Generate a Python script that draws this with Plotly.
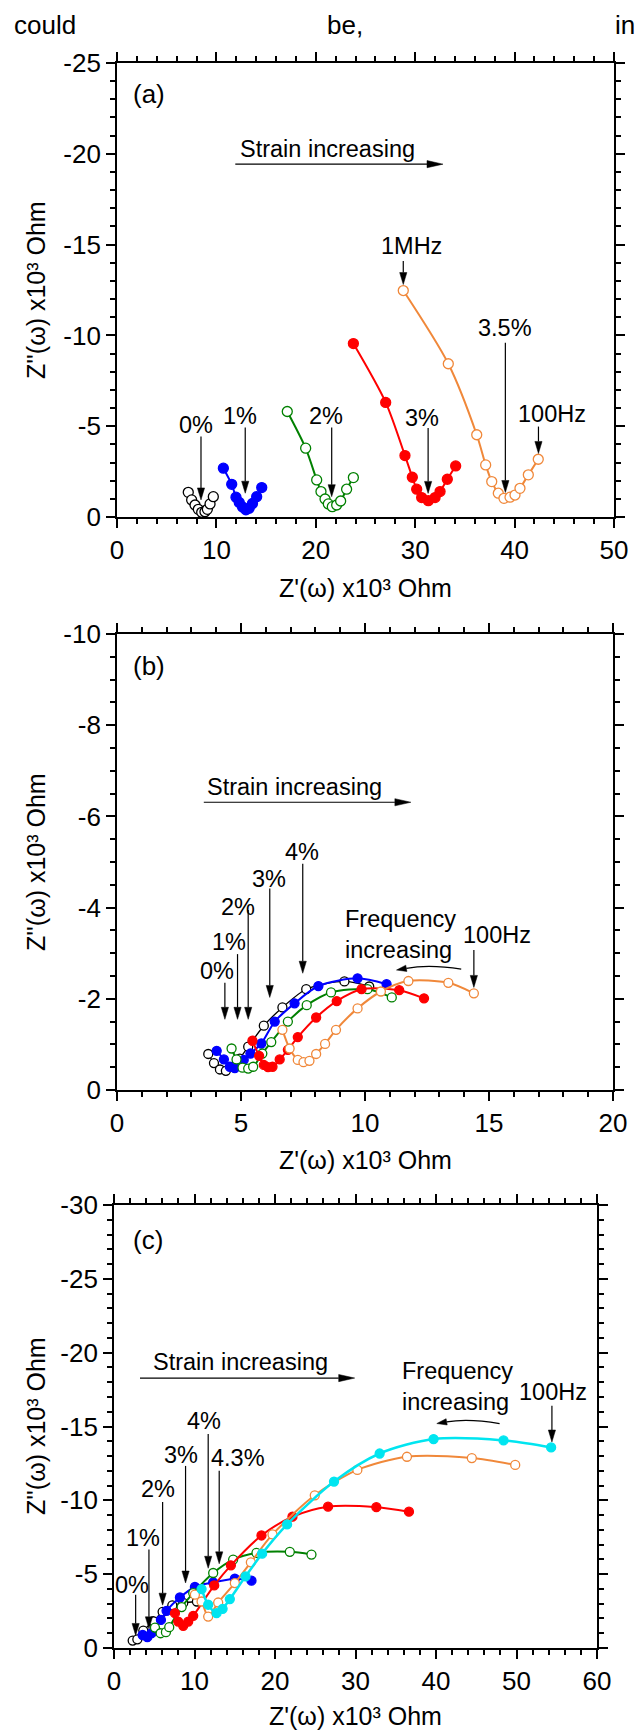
import plotly.graph_objects as go

# ---------------- DATA ----------------
# Panel (a): strain 0%, 1%, 2%, 3%, 3.5%   (Z' , Z'' in x10^3 Ohm)
a_x_0 = [7.17, 7.51, 7.85, 8.18, 8.52, 8.85, 9.09, 9.36, 9.69]
a_y_0 = [-1.36, -0.94, -0.66, -0.42, -0.26, -0.29, -0.42, -0.72, -1.12]
a_x_1 = [10.70, 11.54, 11.97, 12.30, 12.63, 12.97, 13.30, 13.63, 14.05, 14.56]
a_y_1 = [-2.69, -1.80, -1.09, -0.80, -0.55, -0.40, -0.48, -0.75, -1.12, -1.62]
a_x_2 = [17.13, 18.98, 20.09, 20.52, 20.93, 21.26, 21.66, 22.10, 22.50, 23.10, 23.78]
a_y_2 = [-5.81, -3.79, -2.04, -1.40, -0.99, -0.72, -0.57, -0.66, -0.88, -1.53, -2.17]
a_x_3 = [23.78, 27.03, 28.97, 29.71, 30.15, 30.65, 31.32, 32.00, 32.50, 33.23, 34.07]
a_y_3 = [-9.55, -6.31, -3.38, -2.19, -1.53, -1.07, -0.90, -1.07, -1.40, -2.08, -2.81]
a_x_35 = [28.80, 33.33, 36.19, 37.09, 37.70, 38.36, 38.93, 39.54, 40.04, 40.54, 41.38, 42.38]
a_y_35 = [-12.47, -8.44, -4.53, -2.87, -1.95, -1.31, -1.03, -1.09, -1.21, -1.58, -2.32, -3.18]

# Panel (b): strain 0%, 1%, 2%, 3%, 4%
b_x_0 = [3.68, 3.91, 4.15, 4.39, 4.68, 4.95, 5.29, 5.92, 6.67, 7.63, 9.17, 10.17]
b_y_0 = [-0.79, -0.59, -0.45, -0.42, -0.51, -0.69, -0.95, -1.41, -1.81, -2.21, -2.38, -2.27]
b_x_1 = [4.02, 4.31, 4.55, 4.75, 5.11, 5.38, 5.82, 6.36, 7.16, 8.12, 9.70, 10.87]
b_y_1 = [-0.86, -0.67, -0.51, -0.48, -0.66, -0.80, -1.02, -1.50, -1.90, -2.28, -2.45, -2.32]
b_x_2 = [4.62, 4.82, 5.06, 5.29, 5.49, 5.86, 6.22, 6.89, 7.65, 8.63, 10.10, 11.08]
b_y_2 = [-0.91, -0.67, -0.49, -0.47, -0.51, -0.80, -1.05, -1.50, -1.86, -2.14, -2.21, -2.03]
b_x_3 = [5.46, 5.73, 5.92, 6.09, 6.27, 6.56, 6.89, 7.29, 8.03, 8.86, 9.86, 11.38, 12.38]
b_y_3 = [-1.08, -0.75, -0.55, -0.50, -0.51, -0.67, -0.88, -1.16, -1.59, -1.95, -2.21, -2.19, -2.01]
b_x_4 = [6.67, 6.96, 7.29, 7.52, 7.76, 8.03, 8.39, 8.83, 9.70, 10.64, 11.75, 13.36, 14.39]
b_y_4 = [-1.32, -0.91, -0.66, -0.61, -0.64, -0.79, -1.01, -1.32, -1.79, -2.16, -2.39, -2.35, -2.12]

# Panel (c): strain 0%, 1%, 2%, 3%, 4%, 4.3%
c_x_0 = [2.32, 2.90, 3.64, 4.88, 6.04, 7.24, 8.60, 10.30]
c_y_0 = [-0.50, -0.59, -1.18, -1.81, -2.45, -2.88, -3.05, -3.15]
c_x_1 = [3.56, 4.14, 4.67, 5.83, 6.53, 8.19, 10.05, 12.32, 15.01, 17.08]
c_y_1 = [-0.88, -0.73, -1.00, -1.90, -2.52, -3.42, -4.13, -4.44, -4.69, -4.56]
c_x_2 = [5.09, 5.79, 6.45, 6.86, 8.40, 9.84, 12.32, 14.80, 17.70, 21.84, 24.53]
c_y_2 = [-1.38, -1.00, -1.07, -1.41, -2.77, -3.72, -5.08, -5.99, -6.44, -6.51, -6.33]
c_x_3 = [7.57, 7.98, 8.60, 9.22, 9.84, 12.45, 14.52, 18.32, 22.17, 26.59, 32.59, 36.64]
c_y_3 = [-2.36, -1.79, -1.50, -1.79, -2.18, -4.24, -5.60, -7.62, -8.89, -9.57, -9.54, -9.23]
c_x_4 = [10.05, 10.88, 11.70, 12.94, 15.01, 17.00, 19.69, 24.94, 30.23, 36.39, 44.45, 49.84]
c_y_4 = [-3.61, -3.15, -2.13, -3.08, -4.40, -5.80, -7.69, -10.34, -12.06, -12.95, -12.86, -12.40]
c_x_43 = [10.88, 11.70, 12.74, 13.49, 14.39, 16.34, 18.40, 21.50, 27.33, 33.00, 39.70, 48.39, 54.30]
c_y_43 = [-3.99, -2.93, -2.36, -2.65, -3.31, -4.85, -6.39, -8.37, -11.27, -13.17, -14.15, -14.06, -13.58]

# tick labels
a_xticks = [0, 10, 20, 30, 40, 50]
a_yticks = [-25, -20, -15, -10, -5, 0]
b_xticks = [0, 5, 10, 15, 20]
b_yticks = [-10, -8, -6, -4, -2, 0]
c_xticks = [0, 10, 20, 30, 40, 50, 60]
c_yticks = [-30, -25, -20, -15, -10, -5, 0]

# ---------------- STYLE ----------------
W, H = 638, 1731
FONT = "Liberation Sans, Arial, sans-serif"
BLACK, BLUE, GREEN, RED, ORANGE, CYAN = "#000000", "#0000FF", "#008000", "#FF0000", "#F0883A", "#00E5F0"

# plot-area pixel boxes (left, right, top, bottom)
BOX = {"a": (117, 614, 63, 517), "b": (117, 613, 634, 1090), "c": (114, 597, 1205, 1648)}
RNG = {"a": ([0, 50], [0, -25]), "b": ([0, 20], [0, -10]), "c": ([0, 60], [0, -30])}
REF = {"a": ("x", "y"), "b": ("x2", "y2"), "c": ("x3", "y3")}


def scale(p):
    l, r, t, b = BOX[p]
    xr, yr = RNG[p]
    return (r - l) / (xr[1] - xr[0]), (b - t) / abs(yr[1] - yr[0])


def xd(l, r):
    return [l / W, r / W]


def yd(t, b):
    return [1 - b / H, 1 - t / H]


fig = go.Figure()


def add_series(xs, ys, color, filled, p, size=10, lw=2):
    xa, ya = REF[p]
    fig.add_trace(go.Scatter(
        x=xs, y=ys, mode="lines+markers", xaxis=xa, yaxis=ya,
        line=dict(color=color, width=lw, shape="spline", smoothing=0.8),
        marker=dict(symbol="circle", size=size,
                    color=color if filled else "white",
                    line=dict(color=color, width=1.3)),
        showlegend=False, hoverinfo="skip"))


add_series(a_x_0, a_y_0, BLACK, False, "a", lw=1.3)
add_series(a_x_1, a_y_1, BLUE, True, "a")
add_series(a_x_2, a_y_2, GREEN, False, "a")
add_series(a_x_3, a_y_3, RED, True, "a")
add_series(a_x_35, a_y_35, ORANGE, False, "a")

add_series(b_x_0, b_y_0, BLACK, False, "b", size=9, lw=1.3)
add_series(b_x_1, b_y_1, BLUE, True, "b", size=9)
add_series(b_x_2, b_y_2, GREEN, False, "b", size=9)
add_series(b_x_3, b_y_3, RED, True, "b", size=9)
add_series(b_x_4, b_y_4, ORANGE, False, "b", size=9)

add_series(c_x_0, c_y_0, BLACK, False, "c", size=9, lw=1.3)
add_series(c_x_1, c_y_1, BLUE, True, "c", size=9)
add_series(c_x_2, c_y_2, GREEN, False, "c", size=9)
add_series(c_x_3, c_y_3, RED, True, "c", size=9)
add_series(c_x_4, c_y_4, ORANGE, False, "c", size=9)
add_series(c_x_43, c_y_43, CYAN, True, "c", size=9, lw=2.5)


def axis(p, is_y, ticks, minor_dt):
    l, r, t, b = BOX[p]
    xa, ya = REF[p]
    return dict(
        domain=yd(t, b) if is_y else xd(l, r),
        range=RNG[p][1] if is_y else RNG[p][0],
        anchor=xa if is_y else ya, automargin=False,
        showline=True, linecolor="black", linewidth=1.8, mirror="ticks",
        ticks="outside", ticklen=9, tickwidth=1.5, tickcolor="black",
        showgrid=False, zeroline=False,
        tickmode="array", tickvals=ticks, ticktext=[str(v) for v in ticks],
        tickfont=dict(family=FONT, size=26, color="black"),
        minor=dict(tickmode="linear", tick0=0, dtick=minor_dt, ticks="outside",
                   ticklen=5, tickwidth=1.5, tickcolor="black", showgrid=False),
    )


fig.update_layout(
    template="none",
    width=W, height=H, autosize=False,
    margin=dict(l=0, r=0, t=0, b=0, pad=0, autoexpand=False),
    paper_bgcolor="white", plot_bgcolor="white", showlegend=False,
    font=dict(family=FONT, color="black"),
    xaxis=axis("a", False, a_xticks, 2), yaxis=axis("a", True, a_yticks, 1),
    xaxis2=axis("b", False, b_xticks, 1), yaxis2=axis("b", True, b_yticks, 0.5),
    xaxis3=axis("c", False, c_xticks, 2), yaxis3=axis("c", True, c_yticks, 1),
)

ann = []
shapes = []
LAB = 23.5


def label(text, x, y, p, size=LAB, xanchor="center", align="center"):
    xr, yr = REF[p]
    ann.append(dict(text=text, x=x, y=y, xref=xr, yref=yr, showarrow=False,
                    xanchor=xanchor, yanchor="middle", align=align, borderpad=0,
                    font=dict(family=FONT, size=size, color="black")))


def head(p, xb, yb, x1, y1, hl=12, hw=3.6):
    """filled triangular arrow head at (x1,y1) pointing away from (xb,yb)"""
    sx, sy = scale(p)
    xr, yr = REF[p]
    X0, Y0, X1, Y1 = xb * sx, yb * sy, x1 * sx, y1 * sy
    dx, dy = X1 - X0, Y1 - Y0
    L = (dx * dx + dy * dy) ** 0.5
    ux, uy = dx / L, dy / L
    bx, by = X1 - ux * hl, Y1 - uy * hl
    nx, ny = -uy, ux
    pts = [(X1, Y1), (bx + nx * hw, by + ny * hw), (bx - nx * hw, by - ny * hw)]
    path = "M " + " L ".join(f"{px / sx:.4f},{py / sy:.4f}" for px, py in pts) + " Z"
    shapes.append(dict(type="path", xref=xr, yref=yr, path=path,
                       fillcolor="black", line=dict(color="black", width=0.5)))
    return bx / sx, by / sy


def arrow(p, x0, y0, x1, y1, hl=12, hw=3.6, width=1.2):
    xr, yr = REF[p]
    bx, by = head(p, x0, y0, x1, y1, hl, hw)
    shapes.append(dict(type="line", xref=xr, yref=yr, x0=x0, y0=y0, x1=bx, y1=by,
                       line=dict(color="black", width=width)))


# ---- panel (a) annotations
label("(a)", 3.2, -23.3, "a", size=26)
label("Strain increasing", 21.2, -20.25, "a")
arrow("a", 11.9, -19.43, 32.8, -19.43, hl=16, hw=3.6)
label("1MHz", 29.6, -14.9, "a")
arrow("a", 28.8, -14.1, 28.8, -12.8)
label("3.5%", 39.0, -10.4, "a")
arrow("a", 39.07, -9.6, 39.07, -1.35)
label("100Hz", 43.8, -5.65, "a")
arrow("a", 42.4, -4.98, 42.4, -3.5)
label("3%", 30.7, -5.46, "a")
arrow("a", 31.3, -4.9, 31.3, -1.3)
label("2%", 21.0, -5.57, "a")
arrow("a", 21.6, -4.93, 21.6, -1.12)
label("1%", 12.4, -5.57, "a")
arrow("a", 12.9, -4.93, 12.9, -1.31)
label("0%", 7.9, -5.06, "a")
arrow("a", 8.45, -4.43, 8.45, -0.94)

# ---- panel (b) annotations
label("(b)", 1.30, -9.3, "b", size=26)
label("Strain increasing", 7.17, -6.64, "b")
arrow("b", 3.5, -6.31, 11.85, -6.31, hl=16, hw=3.6)
label("4%", 7.47, -5.22, "b")
arrow("b", 7.49, -4.96, 7.49, -2.56)
label("3%", 6.13, -4.62, "b")
arrow("b", 6.16, -4.42, 6.16, -2.03)
label("2%", 4.86, -4.02, "b")
arrow("b", 5.29, -3.95, 5.29, -1.55)
label("1%", 4.52, -3.25, "b")
arrow("b", 4.86, -2.98, 4.86, -1.55)
label("0%", 4.04, -2.62, "b")
arrow("b", 4.35, -2.35, 4.35, -1.55)
label("Frequency<br>increasing", 9.15, -3.40, "b", xanchor="left", align="left")
label("100Hz", 15.33, -3.4, "b")
arrow("b", 14.39, -3.07, 14.39, -2.25)

# ---- panel (c) annotations
label("(c)", 4.22, -27.6, "c", size=26)
label("Strain increasing", 15.7, -19.4, "c")
arrow("c", 3.23, -18.28, 29.9, -18.28, hl=16, hw=3.6)
label("4%", 11.2, -15.4, "c")
arrow("c", 11.7, -14.49, 11.7, -5.4)
label("4.3%", 15.35, -12.9, "c")
arrow("c", 13.07, -12.0, 13.07, -5.7)
label("3%", 8.31, -13.06, "c")
arrow("c", 8.89, -12.33, 8.89, -4.4)
label("2%", 5.5, -10.75, "c")
arrow("c", 6.04, -9.89, 6.04, -2.9)
label("1%", 3.56, -7.48, "c")
arrow("c", 4.34, -6.67, 4.34, -1.3)
label("0%", 2.19, -4.3, "c")
arrow("c", 2.69, -3.6, 2.69, -0.85)
label("Frequency<br>increasing", 35.6, -17.7, "c", xanchor="left", align="left")
label("100Hz", 54.55, -17.35, "c")
arrow("c", 54.4, -16.4, 54.4, -13.95)

# curved "Frequency increasing" arrows (quadratic curve + head)
for p, (x0, y0), (cx, cy), (x1, y1) in (
        ("b", (13.88, -2.65), (12.6, -2.76), (11.27, -2.63)),
        ("c", (47.9, -15.2), (44.0, -15.57), (40.1, -15.2))):
    xr, yr = REF[p]
    bx, by = head(p, cx, cy, x1, y1, hl=10, hw=3.2)
    shapes.append(dict(type="path", xref=xr, yref=yr,
                       path=f"M {x0},{y0} Q {cx},{cy} {bx:.4f},{by:.4f}",
                       line=dict(color="black", width=1.2)))

# ---- axis titles (paper coords)
YT = "Z''(ω) x10³ Ohm"
XT = "Z'(ω) x10³ Ohm"
for yc in (290, 862, 1426):
    ann.append(dict(text=YT, x=36 / W, y=1 - yc / H, xref="paper", yref="paper",
                    showarrow=False, textangle=-90, xanchor="center", yanchor="middle",
                    font=dict(family=FONT, size=25, color="black")))
for xc, yc in ((365.5, 588), (365, 1160), (355.5, 1716)):
    ann.append(dict(text=XT, x=xc / W, y=1 - yc / H, xref="paper", yref="paper",
                    showarrow=False, xanchor="center", yanchor="middle",
                    font=dict(family=FONT, size=25, color="black")))

# ---- running text at top
for txt, xp, anc in (("could", 13, "left"), ("be,", 345, "center"), ("in", 614, "left")):
    ann.append(dict(text=txt, x=xp / W, y=1 - 25 / H, xref="paper", yref="paper",
                    showarrow=False, xanchor=anc, yanchor="middle", borderpad=0,
                    font=dict(family=FONT, size=26, color="black")))

fig.update_layout(annotations=ann, shapes=shapes)

fig.write_html("out.html",
               config={"displayModeBar": False, "responsive": False},
               post_script="document.body.style.margin='0px';"
                           "document.body.style.padding='0px';"
                           "document.body.style.overflow='hidden';")
